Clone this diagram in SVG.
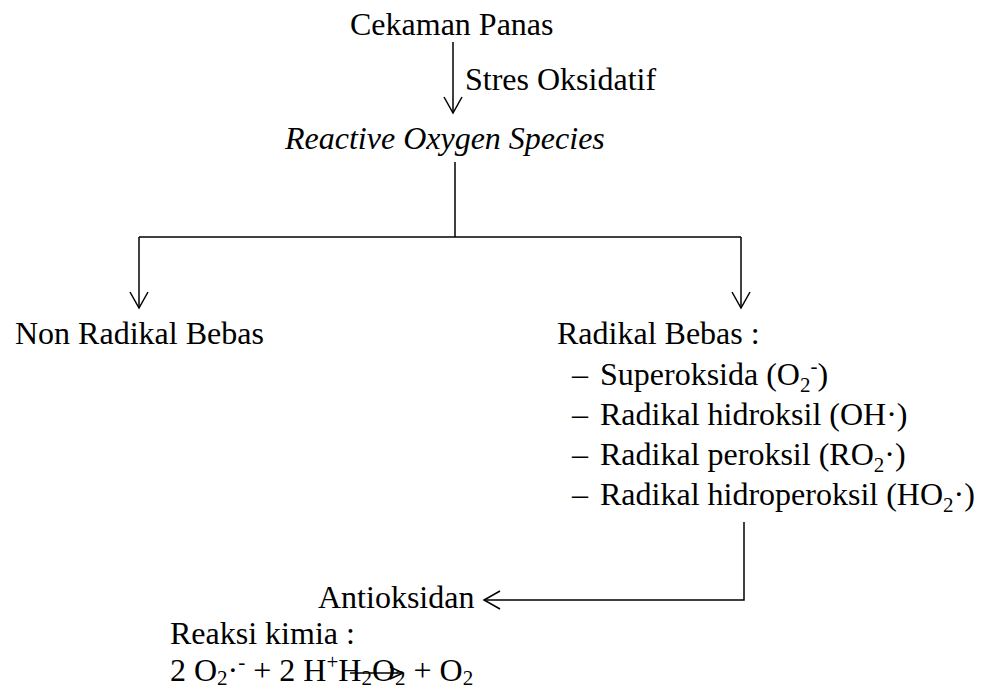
<svg xmlns="http://www.w3.org/2000/svg" width="981" height="690" viewBox="0 0 981 690">
<style>
text{font-family:"Liberation Serif","Times New Roman",serif;font-size:32px;fill:#000}
.it{font-style:italic}
.sb{font-size:21px}
.ln{fill:none;stroke:#000;stroke-width:1.5}
</style>
<defs>
<marker id="ah" markerUnits="userSpaceOnUse" markerWidth="20" markerHeight="22" viewBox="0 0 20 22" refX="18" refY="11" orient="auto">
<path d="M2,2 L18,11 L2,20" fill="none" stroke="#000" stroke-width="1.5"/>
</marker>
<marker id="ahs" markerUnits="userSpaceOnUse" markerWidth="16" markerHeight="16" viewBox="0 0 16 16" refX="14" refY="8" orient="auto">
<path d="M1,2 L14,8 L1,14" fill="none" stroke="#000" stroke-width="1.5"/>
</marker>
</defs>
<rect width="981" height="690" fill="#fff"/>
<g id="connectors">
<path class="ln" d="M453,42 V113" marker-end="url(#ah)"/>
<path class="ln" d="M455,162 V237"/>
<path class="ln" d="M139,237 H741"/>
<path class="ln" d="M139,237 V308" marker-end="url(#ah)"/>
<path class="ln" d="M741,237 V308" marker-end="url(#ah)"/>
<path class="ln" d="M744,522 V600 H484" marker-end="url(#ah)"/>
</g>
<g id="cekaman"><text x="350" y="35">Cekaman Panas</text></g>
<g id="stres"><text x="465" y="90">Stres Oksidatif</text></g>
<g id="ros"><text class="it" x="285" y="149">Reactive Oxygen Species</text></g>
<g id="nonradikal"><text x="15" y="344">Non Radikal Bebas</text></g>
<g id="radikal">
<text x="557" y="344">Radikal Bebas :</text>
<text x="572" y="385">–</text><text x="600" y="385">Superoksida (O<tspan class="sb" dy="7">2</tspan><tspan class="sb" dy="-19">-</tspan><tspan dy="12">)</tspan></text>
<text x="572" y="425">–</text><text x="600" y="425">Radikal hidroksil (OH·)</text>
<text x="572" y="465">–</text><text x="600" y="465">Radikal peroksil (RO<tspan class="sb" dy="7">2</tspan><tspan dy="-7">·)</tspan></text>
<text x="572" y="505">–</text><text x="600" y="505">Radikal hidroperoksil (HO<tspan class="sb" dy="7">2</tspan><tspan dy="-7">·)</tspan></text>
</g>
<g id="antioksidan">
<text x="318" y="608">Antioksidan</text>
<text x="170" y="644">Reaksi kimia :</text>
<text x="170" y="681">2 O<tspan class="sb" dy="4">2</tspan><tspan dy="-4">·</tspan><tspan class="sb" dy="-12">-</tspan><tspan dy="12"> + 2 H</tspan><tspan class="sb" dy="-12">+</tspan><tspan dy="12">H</tspan><tspan class="sb" dy="4">2</tspan><tspan dy="-4">O</tspan><tspan class="sb" dy="4">2</tspan><tspan dy="-4"> + O</tspan><tspan class="sb" dy="4">2</tspan></text>
<path class="ln" d="M350,673 H403" marker-end="url(#ahs)"/>
</g>
</svg>
